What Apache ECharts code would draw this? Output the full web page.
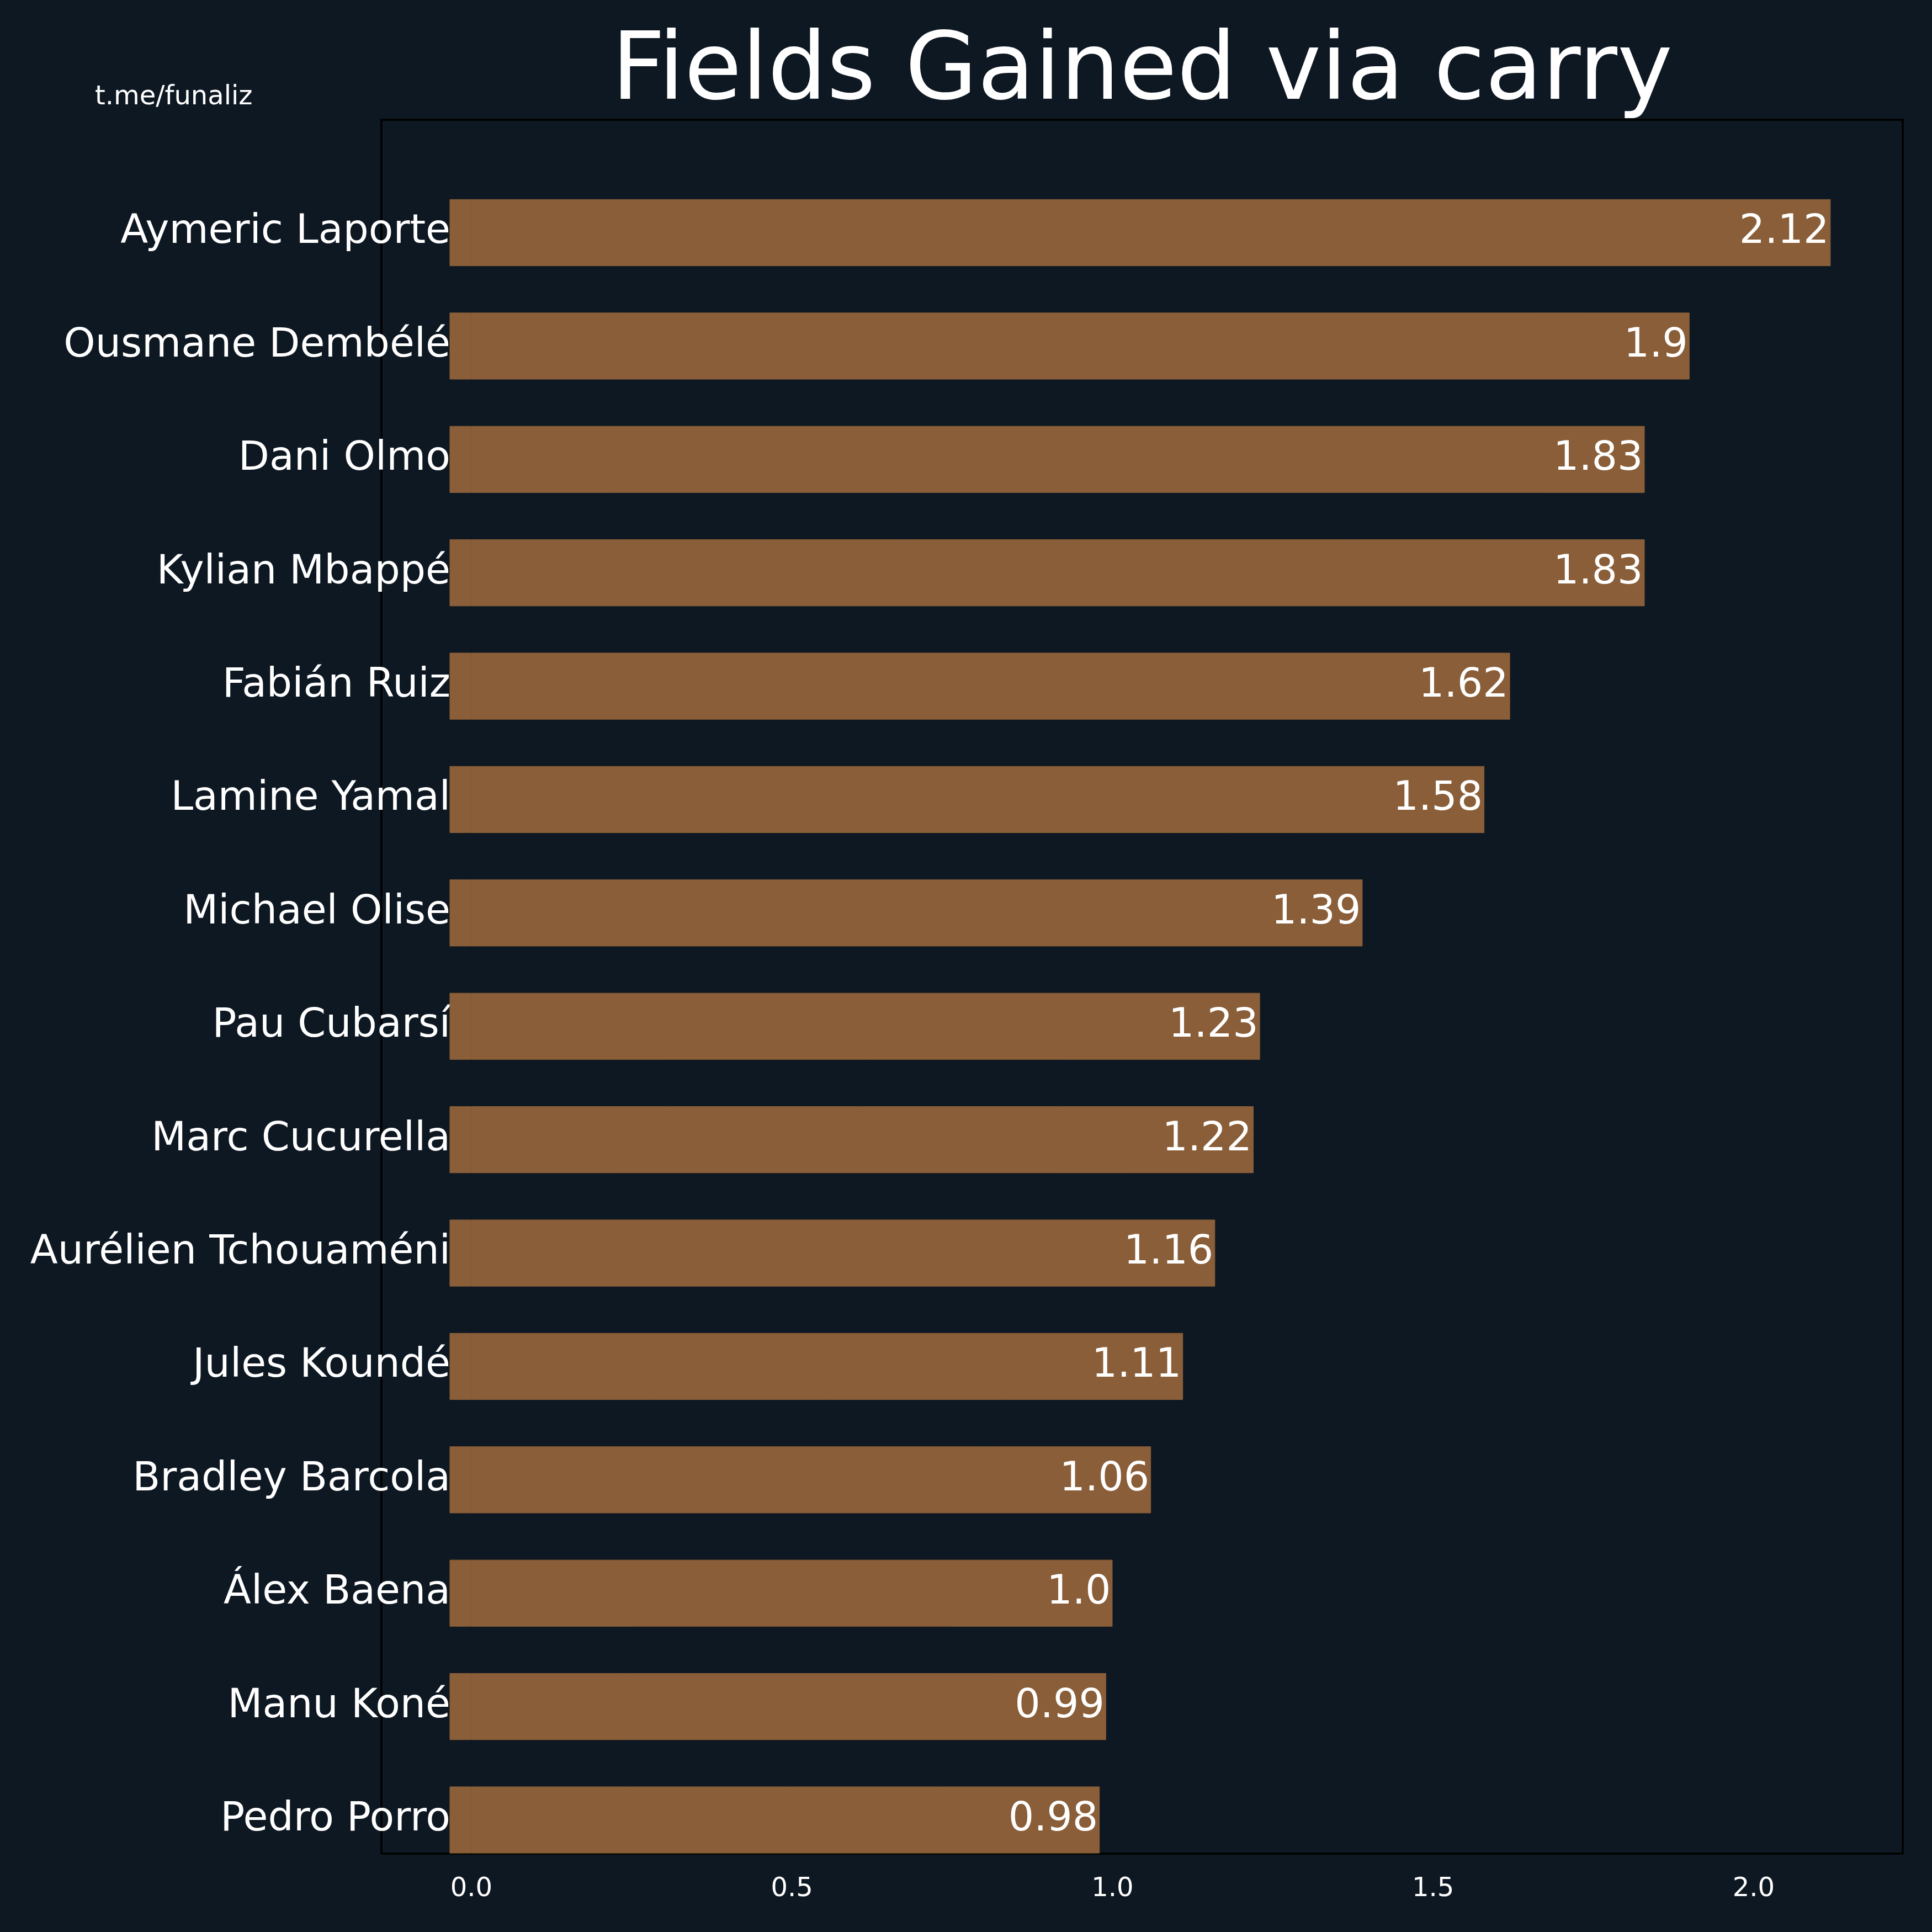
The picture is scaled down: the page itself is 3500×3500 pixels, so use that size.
<!DOCTYPE html>
<html>
<head>
<meta charset="utf-8">
<script src="https://cdn.jsdelivr.net/npm/echarts@6/dist/echarts.min.js"></script>
<style>
  html, body { margin: 0; padding: 0; background: #0e1822; }
  #chart { width: 3500px; height: 3500px; }
</style>
</head>
<body>
<div id="chart"></div>
<script>
// players, top to bottom
const players = [
  'Aymeric Laporte', 'Ousmane Dembélé', 'Dani Olmo', 'Kylian Mbappé',
  'Fabián Ruiz', 'Lamine Yamal', 'Michael Olise', 'Pau Cubarsí',
  'Marc Cucurella', 'Aurélien Tchouaméni', 'Jules Koundé', 'Bradley Barcola',
  'Álex Baena', 'Manu Koné', 'Pedro Porro'
];
const fieldsGained = [2.12, 1.9, 1.83, 1.83, 1.62, 1.58, 1.39, 1.23, 1.22, 1.16, 1.11, 1.06, 1.0, 0.99, 0.98];
const xTicks = [0, 0.5, 1.0, 1.5, 2.0];

// bars in the original start a little left of zero
const barBase = -0.034;
const xMin = -0.1403;
const xMax = 2.2325;

const bg = '#0e1822';
const barColor = '#8a5e38';
const font = 'DejaVu Sans';

// python-like str() of a float: 1 -> "1.0"
function pyStr(v) {
  return Number.isInteger(v) ? v.toFixed(1) : String(v);
}

const chart = echarts.init(document.getElementById('chart'));

const option = {
  backgroundColor: bg,
  animation: false,
  title: [
    {
      text: 'Fields Gained via carry',
      left: 2069,
      top: 51,
      textAlign: 'center',
      padding: 0,
      textStyle: { color: '#ffffff', fontSize: 169, fontWeight: 'normal', fontFamily: font }
    },
    {
      text: 't.me/funaliz',
      left: 172,
      top: 153,
      padding: 0,
      textStyle: { color: '#ffffff', fontSize: 48, fontWeight: 'normal', fontFamily: font }
    }
  ],
  grid: [
    // frame
    { left: 691, right: 53, top: 217, bottom: 142, show: true, borderColor: '#000000', borderWidth: 3.5, backgroundColor: 'transparent' },
    // bars
    { left: 691, right: 53, top: 318.8, bottom: 100.3 }
  ],
  xAxis: [
    {
      gridIndex: 0,
      type: 'value',
      min: xMin,
      max: xMax,
      axisLine: { show: false },
      axisTick: { show: false },
      splitLine: { show: false },
      axisLabel: {
        customValues: xTicks,
        color: '#ffffff',
        fontSize: 48,
        fontFamily: font,
        margin: 41,
        formatter: v => v.toFixed(1)
      }
    },
    {
      gridIndex: 1,
      type: 'value',
      min: xMin,
      max: xMax,
      show: false
    }
  ],
  yAxis: [
    { gridIndex: 0, type: 'value', show: false },
    {
      gridIndex: 1,
      type: 'category',
      inverse: true,
      data: players,
      offset: -124,
      axisLine: { show: false },
      axisTick: { show: false },
      splitLine: { show: false },
      axisLabel: {
        color: '#ffffff',
        fontSize: 73,
        fontFamily: font,
        margin: -1
      }
    }
  ],
  series: [
    {
      type: 'bar',
      xAxisIndex: 1,
      yAxisIndex: 1,
      stack: 'carry',
      barWidth: '59%',
      silent: true,
      itemStyle: { color: barColor, borderColor: barColor, borderWidth: 1 },
      data: players.map(() => barBase)
    },
    {
      name: 'Fields Gained via carry',
      type: 'bar',
      xAxisIndex: 1,
      yAxisIndex: 1,
      stack: 'carry',
      barWidth: '59%',
      itemStyle: { color: barColor, borderColor: barColor, borderWidth: 1 },
      label: {
        show: true,
        position: 'insideRight',
        distance: 3,
        color: '#ffffff',
        fontSize: 73,
        fontFamily: font,
        formatter: p => pyStr(p.value)
      },
      data: fieldsGained
    }
  ]
};

chart.setOption(option);
</script>
</body>
</html>
